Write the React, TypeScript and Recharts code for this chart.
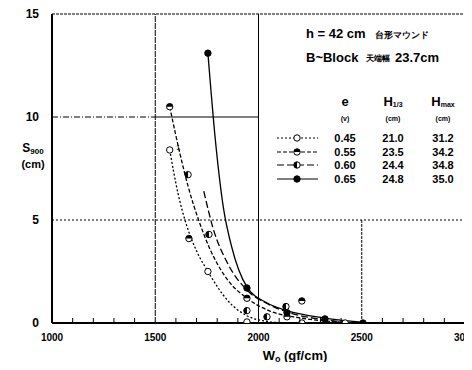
import React from 'react';
import { ComposedChart, Line, Scatter, XAxis, YAxis, ReferenceLine } from 'recharts';

// W0 (gf/cm) axis ticks: minor every 100, labels every 500
const xTicks = [1000, 1100, 1200, 1300, 1400, 1500, 1600, 1700, 1800, 1900, 2000, 2100, 2200, 2300, 2400, 2500, 2600, 2700, 2800, 2900, 3000];
const xLabelled = [1000, 1500, 2000, 2500, 3000];
const yTicks = [0, 5, 10, 15];

// fitted curves, [W0, S]
const curve045 = [[1570, 8.4], [1610, 6.3], [1650, 4.8], [1700, 3.5], [1755, 2.5], [1850, 1.1], [1944, 0.35], [2040, 0.08], [2120, 0]];
const curve055 = [[1570, 10.5], [1620, 8.2], [1660, 6.6], [1710, 5.0], [1760, 3.7], [1850, 2.1], [1944, 1.2], [2050, 0.6], [2200, 0.25], [2400, 0.04]];
const curve060 = [[1735, 6.4], [1780, 4.6], [1850, 2.9], [1944, 1.6], [2050, 0.9], [2150, 0.5], [2300, 0.18], [2450, 0.03]];
const curve065 = [[1755, 13.1], [1790, 9.0], [1830, 5.6], [1870, 3.7], [1944, 1.75], [2040, 0.98], [2138, 0.6], [2322, 0.24], [2500, 0.04]];

// measured points, [W0, S]
const pts045 = [[1570, 8.4], [1755, 2.5], [1944, 0.05], [2210, 0], [2420, 0]];
const pts055 = [[1570, 10.5], [1663, 4.1], [1944, 1.2], [2138, 0.3], [2210, 1.07]];
const pts060 = [[1659, 7.2], [1760, 4.3], [1944, 0.6], [2041, 0.3], [2133, 0.8]];
const pts065 = [[1755, 13.1], [1944, 1.7], [2138, 0.5], [2322, 0.2], [2506, 0]];

// legend table
const legendE = ['0.45', '0.55', '0.60', '0.65'];
const legendH13 = ['21.0', '23.5', '24.4', '24.8'];
const legendHmax = ['31.2', '34.2', '34.8', '35.0'];
const legendDash = ['2 2', '4 2', '7 3', undefined];
const legendKind = ['open', 'top', 'left', 'full'];

const toRows = (a: number[][]) => a.map(([w, s]) => ({ w, s }));

const FONT = '"Liberation Sans", Arial, sans-serif';

function Marker({ cx, cy, kind }: { cx: number; cy: number; kind: string }) {
  const r = 3.2;
  if (cx == null || cy == null) return null;
  return (
    <g>
      <circle cx={cx} cy={cy} r={r} fill={kind === 'full' ? '#000' : '#fff'} stroke="#000" strokeWidth={1} />
      {kind === 'top' && <path d={`M${cx - r},${cy} A${r},${r} 0 0 1 ${cx + r},${cy} Z`} fill="#000" />}
      {kind === 'left' && <path d={`M${cx},${cy - r} A${r},${r} 0 0 0 ${cx},${cy + r} Z`} fill="#000" />}
    </g>
  );
}

const shapeFor = (kind: string) => (p: any) => <Marker cx={p.cx} cy={p.cy} kind={kind} />;

function XTick(props: any) {
  const { x, y, payload } = props;
  const v = payload.value;
  if (xLabelled.includes(v)) {
    return (
      <text x={x} y={y + 18} textAnchor="middle" fontSize={10} fontWeight="bold" fontFamily={FONT} fill="#000">
        {v}
      </text>
    );
  }
  return <line x1={x} x2={x} y1={y} y2={y - 5} stroke="#000" strokeWidth={1} />;
}

export default function App() {
  const rowY = [138, 152, 165, 179];
  return (
    <div style={{ margin: -8, position: 'relative', width: 472, height: 370, background: '#fff' }}>
      <ComposedChart width={472} height={370} margin={{ top: 14, right: 7, bottom: 0, left: 0 }}>
        <XAxis
          dataKey="w"
          type="number"
          domain={[1000, 3000]}
          ticks={xTicks}
          interval={0}
          tick={<XTick />}
          tickLine={false}
          tickSize={0}
          tickMargin={0}
          height={47}
          axisLine={{ stroke: '#000', strokeWidth: 2 }}
          allowDataOverflow
        />
        <YAxis
          dataKey="s"
          type="number"
          domain={[0, 15]}
          ticks={yTicks}
          width={52}
          tickLine={false}
          tickMargin={7}
          tick={{ fontSize: 12, fontWeight: 'bold', fill: '#000', fontFamily: FONT }}
          axisLine={{ stroke: '#000', strokeWidth: 2 }}
          allowDataOverflow
        />
        {/* frame and grid */}
        <ReferenceLine y={15} stroke="#000" strokeWidth={1.2} strokeDasharray="3 1" />
        <ReferenceLine x={3000} stroke="#000" strokeWidth={2} />
        <ReferenceLine x={1500} stroke="#000" strokeWidth={1} strokeDasharray="6 1" />
        <ReferenceLine x={2000} stroke="#000" strokeWidth={1} />
        <ReferenceLine segment={[{ x: 2500, y: 0 }, { x: 2500, y: 5 }]} stroke="#000" strokeWidth={1} strokeDasharray="3 1" />
        <ReferenceLine segment={[{ x: 1000, y: 10 }, { x: 1500, y: 10 }]} stroke="#000" strokeWidth={1} strokeDasharray="6 2 1 2" />
        <ReferenceLine segment={[{ x: 1500, y: 10 }, { x: 2000, y: 10 }]} stroke="#000" strokeWidth={1} />
        <ReferenceLine y={5} stroke="#000" strokeWidth={1} strokeDasharray="2 2" />

        <Line data={toRows(curve045)} dataKey="s" type="monotone" stroke="#000" strokeWidth={1.3} strokeDasharray="2 2" dot={false} isAnimationActive={false} />
        <Line data={toRows(curve055)} dataKey="s" type="monotone" stroke="#000" strokeWidth={1.3} strokeDasharray="4 2" dot={false} isAnimationActive={false} />
        <Line data={toRows(curve060)} dataKey="s" type="monotone" stroke="#000" strokeWidth={1.3} strokeDasharray="7 3" dot={false} isAnimationActive={false} />
        <Line data={toRows(curve065)} dataKey="s" type="monotone" stroke="#000" strokeWidth={1.3} dot={false} isAnimationActive={false} />

        <Scatter data={toRows(pts045)} dataKey="s" shape={shapeFor('open')} isAnimationActive={false} />
        <Scatter data={toRows(pts055)} dataKey="s" shape={shapeFor('top')} isAnimationActive={false} />
        <Scatter data={toRows(pts060)} dataKey="s" shape={shapeFor('left')} isAnimationActive={false} />
        <Scatter data={toRows(pts065)} dataKey="s" shape={shapeFor('full')} isAnimationActive={false} />
      </ComposedChart>

      <svg width={472} height={370} style={{ position: 'absolute', left: 0, top: 0, pointerEvents: 'none' }} fontFamily={FONT} fill="#000">
        {/* axis titles */}
        <text x={33} y={152} textAnchor="middle" fontSize={12} fontWeight="bold">
          S<tspan fontSize={8} dy={2}>900</tspan>
        </text>
        <text x={33} y={168} textAnchor="middle" fontSize={11} fontWeight="bold">(cm)</text>
        <text x={295} y={360} textAnchor="middle" fontSize={13} fontWeight="bold">
          W<tspan fontSize={9} dy={2}>o</tspan>
          <tspan dy={-2}> (gf/cm)</tspan>
        </text>
        <text x={176} y={150} fontSize={8}>1</text>

        {/* header notes */}
        <text x={306} y={38} fontSize={13} fontWeight="bold">h = 42 cm</text>
        <text x={375} y={38} fontSize={9} fontWeight="bold">台形マウンド</text>
        <text x={306} y={62} fontSize={13} fontWeight="bold">B~Block</text>
        <text x={366} y={61} fontSize={8} fontWeight="bold">天端幅</text>
        <text x={395} y={62} fontSize={13} fontWeight="bold">23.7cm</text>

        {/* legend table */}
        <text x={345} y={106} textAnchor="middle" fontSize={13} fontWeight="bold">e</text>
        <text x={345} y={121} textAnchor="middle" fontSize={7} fontWeight="bold">(v)</text>
        <text x={393} y={106} textAnchor="middle" fontSize={13} fontWeight="bold">
          H<tspan fontSize={7} dy={1}>1/3</tspan>
        </text>
        <text x={393} y={121} textAnchor="middle" fontSize={7} fontWeight="bold">(cm)</text>
        <text x={443} y={106} textAnchor="middle" fontSize={13} fontWeight="bold">
          H<tspan fontSize={7} dy={1}>max</tspan>
        </text>
        <text x={443} y={121} textAnchor="middle" fontSize={7} fontWeight="bold">(cm)</text>
        {legendE.map((e, i) => (
          <g key={e}>
            <line x1={277} x2={318} y1={rowY[i]} y2={rowY[i]} stroke="#000" strokeWidth={1.2} strokeDasharray={legendDash[i]} />
            <Marker cx={297} cy={rowY[i]} kind={legendKind[i]} />
            <text x={345} y={rowY[i] + 4} textAnchor="middle" fontSize={11} fontWeight="bold">{e}</text>
            <text x={393} y={rowY[i] + 4} textAnchor="middle" fontSize={11} fontWeight="bold">{legendH13[i]}</text>
            <text x={443} y={rowY[i] + 4} textAnchor="middle" fontSize={11} fontWeight="bold">{legendHmax[i]}</text>
          </g>
        ))}
      </svg>
    </div>
  );
}
